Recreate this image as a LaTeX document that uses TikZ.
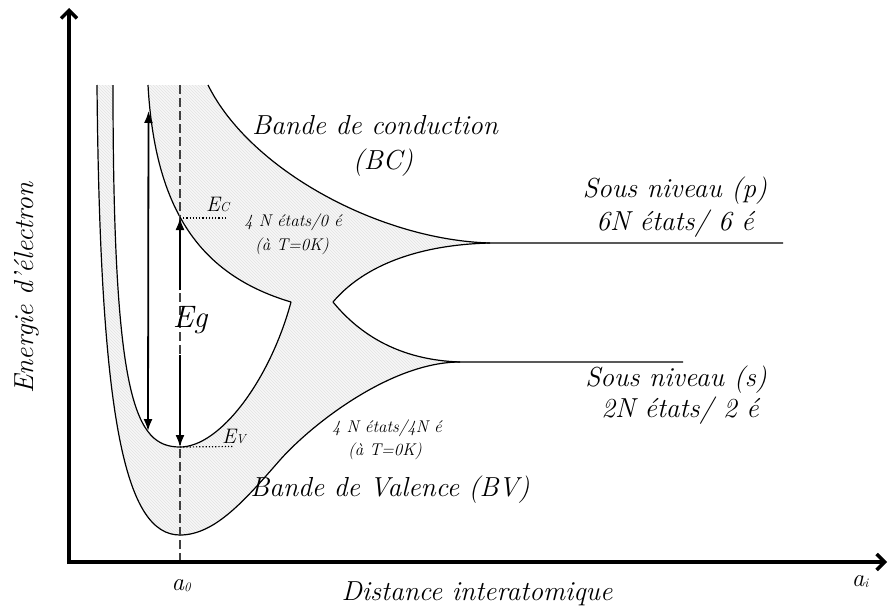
\documentclass[tikz,border=0pt]{standalone}
\usepackage{fontspec}
\setmainfont{Latin Modern Roman}
\usetikzlibrary{arrows.meta,patterns}
\begin{document}
\begin{tikzpicture}[x=1pt,y=-1pt,
  curve/.style={line width=1.2pt, line join=round},
  axis/.style={line width=3.5pt, -{Straight Barb[length=8pt,width=16pt]}},
  gaparrow/.style={line width=1.8pt},
  tipA/.style={-{Latex[length=12pt,width=9pt]}},
  big/.style={font=\fontsize{27.5}{30}\selectfont\itshape, inner sep=0pt},
  small/.style={font=\fontsize{17}{19}\selectfont\itshape, inner sep=0pt},
  band/.style={fill=gray!6, postaction={pattern=north west lines, pattern color=gray!22}}]
\useasboundingbox (0,0) rectangle (888,610);

% key points
\coordinate (D0) at (97,85);
\coordinate (Dmin) at (180,535);
\coordinate (Dmid) at (280,460);
\coordinate (Sj) at (460,362);
\coordinate (Send) at (683,362);
\coordinate (V0) at (113,85);
\coordinate (Ev) at (180,447);
\coordinate (Lc) at (291,302);
\coordinate (C0) at (148,85);
\coordinate (A0) at (208,85);
\coordinate (Pj) at (490,243);
\coordinate (Pend) at (783,243);
\coordinate (Rc) at (333,302);
\coordinate (Ec) at (180,218);

% shaded band region
\path[band] (A0) .. controls (250,170) and (380,240) .. (Pj)
  .. controls (410,245) and (360,270) .. (Rc)
  .. controls (360,335) and (400,360) .. (Sj)
  .. controls (390,362) and (310,426) .. (Dmid)
  .. controls (245,500) and (215,535) .. (Dmin)
  .. controls (125,535) and (100,420) .. (D0)
  -- (V0)
  .. controls (113,400) and (135,447) .. (Ev)
  .. controls (220,447) and (270,380) .. (Lc)
  .. controls (200,275) and (155,210) .. (C0)
  -- cycle;

% band edges
\draw[curve] (A0) .. controls (250,170) and (380,240) .. (Pj) -- (Pend);
\draw[curve] (Pj) .. controls (410,245) and (360,270) .. (Rc)
  .. controls (360,335) and (400,360) .. (Sj) -- (Send);
\draw[curve] (D0) .. controls (100,420) and (125,535) .. (Dmin)
  .. controls (215,535) and (245,500) .. (Dmid)
  .. controls (310,426) and (390,362) .. (Sj);
\draw[curve] (V0) .. controls (113,400) and (135,447) .. (Ev)
  .. controls (220,447) and (270,380) .. (Lc)
  .. controls (200,275) and (155,210) .. (C0);

% a0 dashed line
\coordinate (a0top) at (180,85);
\coordinate (a0bot) at (180,562);
\draw[line width=1.1pt, gray!50!black, dash pattern=on 9pt off 4pt] (a0top) -- (a0bot);

% gap arrows
\coordinate (Ltop) at (148.5,111);
\coordinate (Lbot) at (148,431);
\draw[gaparrow, {Latex[length=12pt,width=9pt]}-{Latex[length=12pt,width=9pt]}] (Ltop) -- (Lbot);
\coordinate (Egup) at (180,290);
\coordinate (Egdn) at (180,355);
\draw[gaparrow, tipA] (Egup) -- (Ec);
\draw[gaparrow, tipA] (Egdn) -- (Ev);

% dotted level marks
\coordinate (Ecr) at (227,218);
\coordinate (Evr) at (233,446.5);
\draw[dotted, line width=1.2pt] (Ec) -- (Ecr);
\draw[dotted, line width=1.2pt] (Ev) -- (Evr);

% axes
\coordinate (Ytop) at (69,8);
\coordinate (Xend) at (887,562);
\draw[axis] (69,564) -- (Ytop);
\draw[axis] (67,562) -- (Xend);

% labels
\node[big] (bc1) at (375,125) {Bande de conduction};
\node[big] (bc2) at (383,163) {(BC)};
\node[big] (p1) at (675,191) {Sous niveau (p)};
\node[big] (p2) at (675,224) {6N états/ 6 é};
\node[big] (s1) at (676,380) {Sous niveau (s)};
\node[big] (s2) at (680,411) {2N états/ 2 é};
\node[small] (cb1) at (293,222) {4 N états/0 é};
\node[small] (cb2) at (292,246) {(à T=0K)};
\node[small] (vb1) at (387,428) {4 N états/4N é};
\node[small] (vb2) at (385,451) {(à T=0K)};
\node[big] (bv) at (390,490) {Bande de Valence (BV)};
\node[big, font=\fontsize{31}{32}\selectfont\itshape] (eg) at (190,320) {Eg};
\node[inner sep=0pt, anchor=base west, font=\fontsize{21}{21}\selectfont\itshape] (eclab) at (206,211) {E\fontsize{13}{13}\selectfont C};
\node[inner sep=0pt, anchor=base west, font=\fontsize{21}{21}\selectfont\itshape] (evlab) at (222,443) {E\fontsize{13}{13}\selectfont V};
\node[big, rotate=90] (ylab) at (27,288) {Energie d'électron};
\node[big] (xlab) at (477,594) {Distance interatomique};
\node[inner sep=0pt, font=\fontsize{25}{26}\selectfont\itshape] (a0lab) at (181,586) {a\raisebox{-1pt}{\fontsize{13}{13}\selectfont 0}};
\node[inner sep=0pt, font=\fontsize{25}{26}\selectfont\itshape] (ailab) at (860,582) {a\raisebox{-1pt}{\fontsize{13}{13}\selectfont i}};
\end{tikzpicture}
\end{document}
